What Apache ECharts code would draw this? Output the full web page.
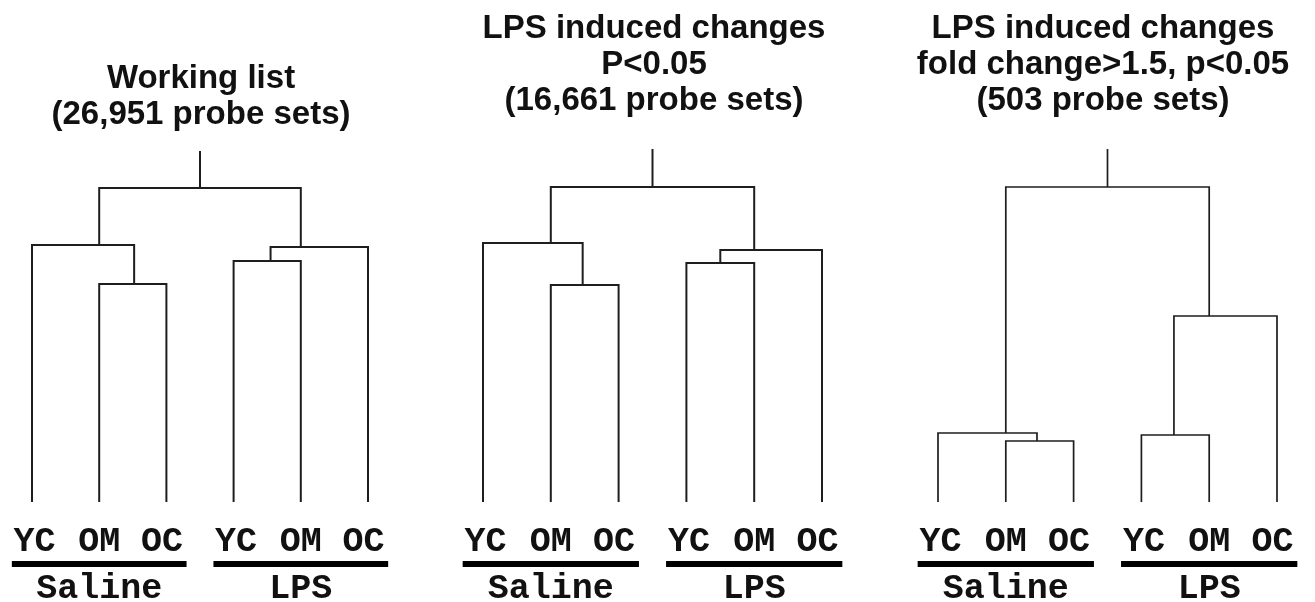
<!DOCTYPE html>
<html>
<head>
<meta charset="utf-8">
<script src="https://cdn.jsdelivr.net/npm/echarts@6/dist/echarts.min.js"></script>
<style>
  html, body { margin: 0; padding: 0; background: #fff; }
  #chart { width: 1315px; height: 602px; }
</style>
</head>
<body>
<div id="chart"></div>
<script>
// ── data ──
const LEAF_LABELS = ['YC', 'OM', 'OC', 'YC', 'OM', 'OC'];
const GROUP_LABELS = ['Saline', 'LPS'];
const GROUP_SPANS = [[0, 2], [3, 5]];   // leaf index range of each group

const TITLES = [
  'Working list\n(26,951 probe sets)',
  'LPS induced changes\nP<0.05\n(16,661 probe sets)',
  'LPS induced changes\nfold change>1.5, p<0.05\n(503 probe sets)',
];

// merges: [left x, left height, right x, right height, merge height]
const MERGES_WORKING = [
  [1, 0, 2, 0, 218],
  [0, 0, 1.52, 218, 257],
  [3, 0, 4, 0, 241],
  [3.55, 241, 5, 0, 255],
  [1, 257, 4, 255, 314],
];
const MERGES_P005 = [
  [1, 0, 2, 0, 217],
  [0, 0, 1.47, 217, 259],
  [3, 0, 4, 0, 239],
  [3.5, 239, 5, 0, 252],
  [1, 259, 4, 252, 315],
];
const MERGES_FOLD = [
  [1, 0, 2, 0, 61],
  [0, 0, 1.46, 61, 69],
  [3, 0, 4, 0, 67],
  [3.48, 67, 5, 0, 186],
  [1, 69, 4, 186, 315],
];
// root stub: [x, from height, to height]
const ROOT_WORKING = [2.5, 314, 351];
const ROOT_P005 = [2.5, 315, 353];
const ROOT_FOLD = [2.5, 315, 353];

const PANELS = [
  { merges: MERGES_WORKING, root: ROOT_WORKING, left: 32, width: 336, titleX: 201, titleTop: 61, lw: 2 },
  { merges: MERGES_P005, root: ROOT_P005, left: 483, width: 339, titleX: 654, titleTop: 11, lw: 2 },
  { merges: MERGES_FOLD, root: ROOT_FOLD, left: 938, width: 339, titleX: 1103, titleTop: 11, lw: 1.7 },
];

const LINE_COLOR = '#1e1e1e';
const TEXT_COLOR = '#111';
const MONO = '"Liberation Mono", "Courier New", monospace';
const SANS = '"Liberation Sans", Arial, sans-serif';
const BAR_Y = -62, BAR_PAD = 0.3, GROUP_Y = -87;

function renderMerge(lw) {
  return (params, api) => {
    const p1 = api.coord([api.value(0), api.value(1)]);
    const p2 = api.coord([api.value(0), api.value(4)]);
    const p3 = api.coord([api.value(2), api.value(4)]);
    const p4 = api.coord([api.value(2), api.value(3)]);
    return {
      type: 'polyline',
      shape: { points: [p1, p2, p3, p4] },
      style: { stroke: LINE_COLOR, lineWidth: lw, fill: null },
    };
  };
}

// underline bar + group name below the leaf labels
function renderGroup(params, api) {
  const a = api.coord([api.value(0) - BAR_PAD, BAR_Y]);
  const b = api.coord([api.value(1) + BAR_PAD, BAR_Y]);
  const c = api.coord([(api.value(0) + api.value(1)) / 2, GROUP_Y]);
  return {
    type: 'group',
    children: [
      { type: 'rect', shape: { x: a[0], y: a[1] - 3, width: b[0] - a[0], height: 6 },
        style: { fill: '#000' } },
      { type: 'text', x: c[0], y: c[1],
        style: { text: GROUP_LABELS[params.dataIndex], fill: TEXT_COLOR,
                 font: 'bold 35px ' + MONO, align: 'center', verticalAlign: 'middle' } },
    ],
  };
}

const leafFont = { fontFamily: MONO, fontWeight: 'bold', fontSize: 35, color: TEXT_COLOR };
const leafRich = {
  a: { ...leafFont, padding: [0, 0, 0, 5] },
  b: { ...leafFont },
  c: { ...leafFont, padding: [0, 9, 0, 0] },
};

const option = {
  backgroundColor: '#fff',
  animation: false,
  title: PANELS.map((p, i) => ({
    text: TITLES[i],
    left: p.titleX,
    top: p.titleTop,
    padding: 0,
    textAlign: 'center',
    textStyle: { fontFamily: SANS, fontWeight: 'bold', fontSize: 33, lineHeight: 36, color: TEXT_COLOR },
  })),
  grid: PANELS.map(p => ({
    left: p.left, width: p.width, top: 142, bottom: 100,
    outerBoundsMode: 'none', containLabel: false,
  })),
  xAxis: PANELS.map((p, i) => ({
    type: 'value', gridIndex: i, min: 0, max: 5, interval: 1,
    axisLine: { show: false }, axisTick: { show: false }, splitLine: { show: false },
    axisLabel: {
      margin: 23, showMinLabel: true, showMaxLabel: true, ...leafFont,
      formatter: v => {
        const k = Math.round(v);
        return '{' + 'abc'[k % 3] + '|' + LEAF_LABELS[k] + '}';
      },
      rich: leafRich,
    },
  })),
  yAxis: PANELS.map((p, i) => ({
    type: 'value', gridIndex: i, min: 0, max: 360, show: false, splitLine: { show: false },
  })),
  series: PANELS.flatMap((p, i) => [
    { type: 'custom', xAxisIndex: i, yAxisIndex: i, renderItem: renderMerge(p.lw), data: p.merges, silent: true },
    { type: 'line', xAxisIndex: i, yAxisIndex: i, symbol: 'none', silent: true,
      lineStyle: { color: LINE_COLOR, width: p.lw },
      data: [[p.root[0], p.root[1]], [p.root[0], p.root[2]]] },
    { type: 'custom', xAxisIndex: i, yAxisIndex: i, renderItem: renderGroup, data: GROUP_SPANS,
      clip: false, silent: true },
  ]),
};

const chart = echarts.init(document.getElementById('chart'));
chart.setOption(option);
</script>
</body>
</html>
